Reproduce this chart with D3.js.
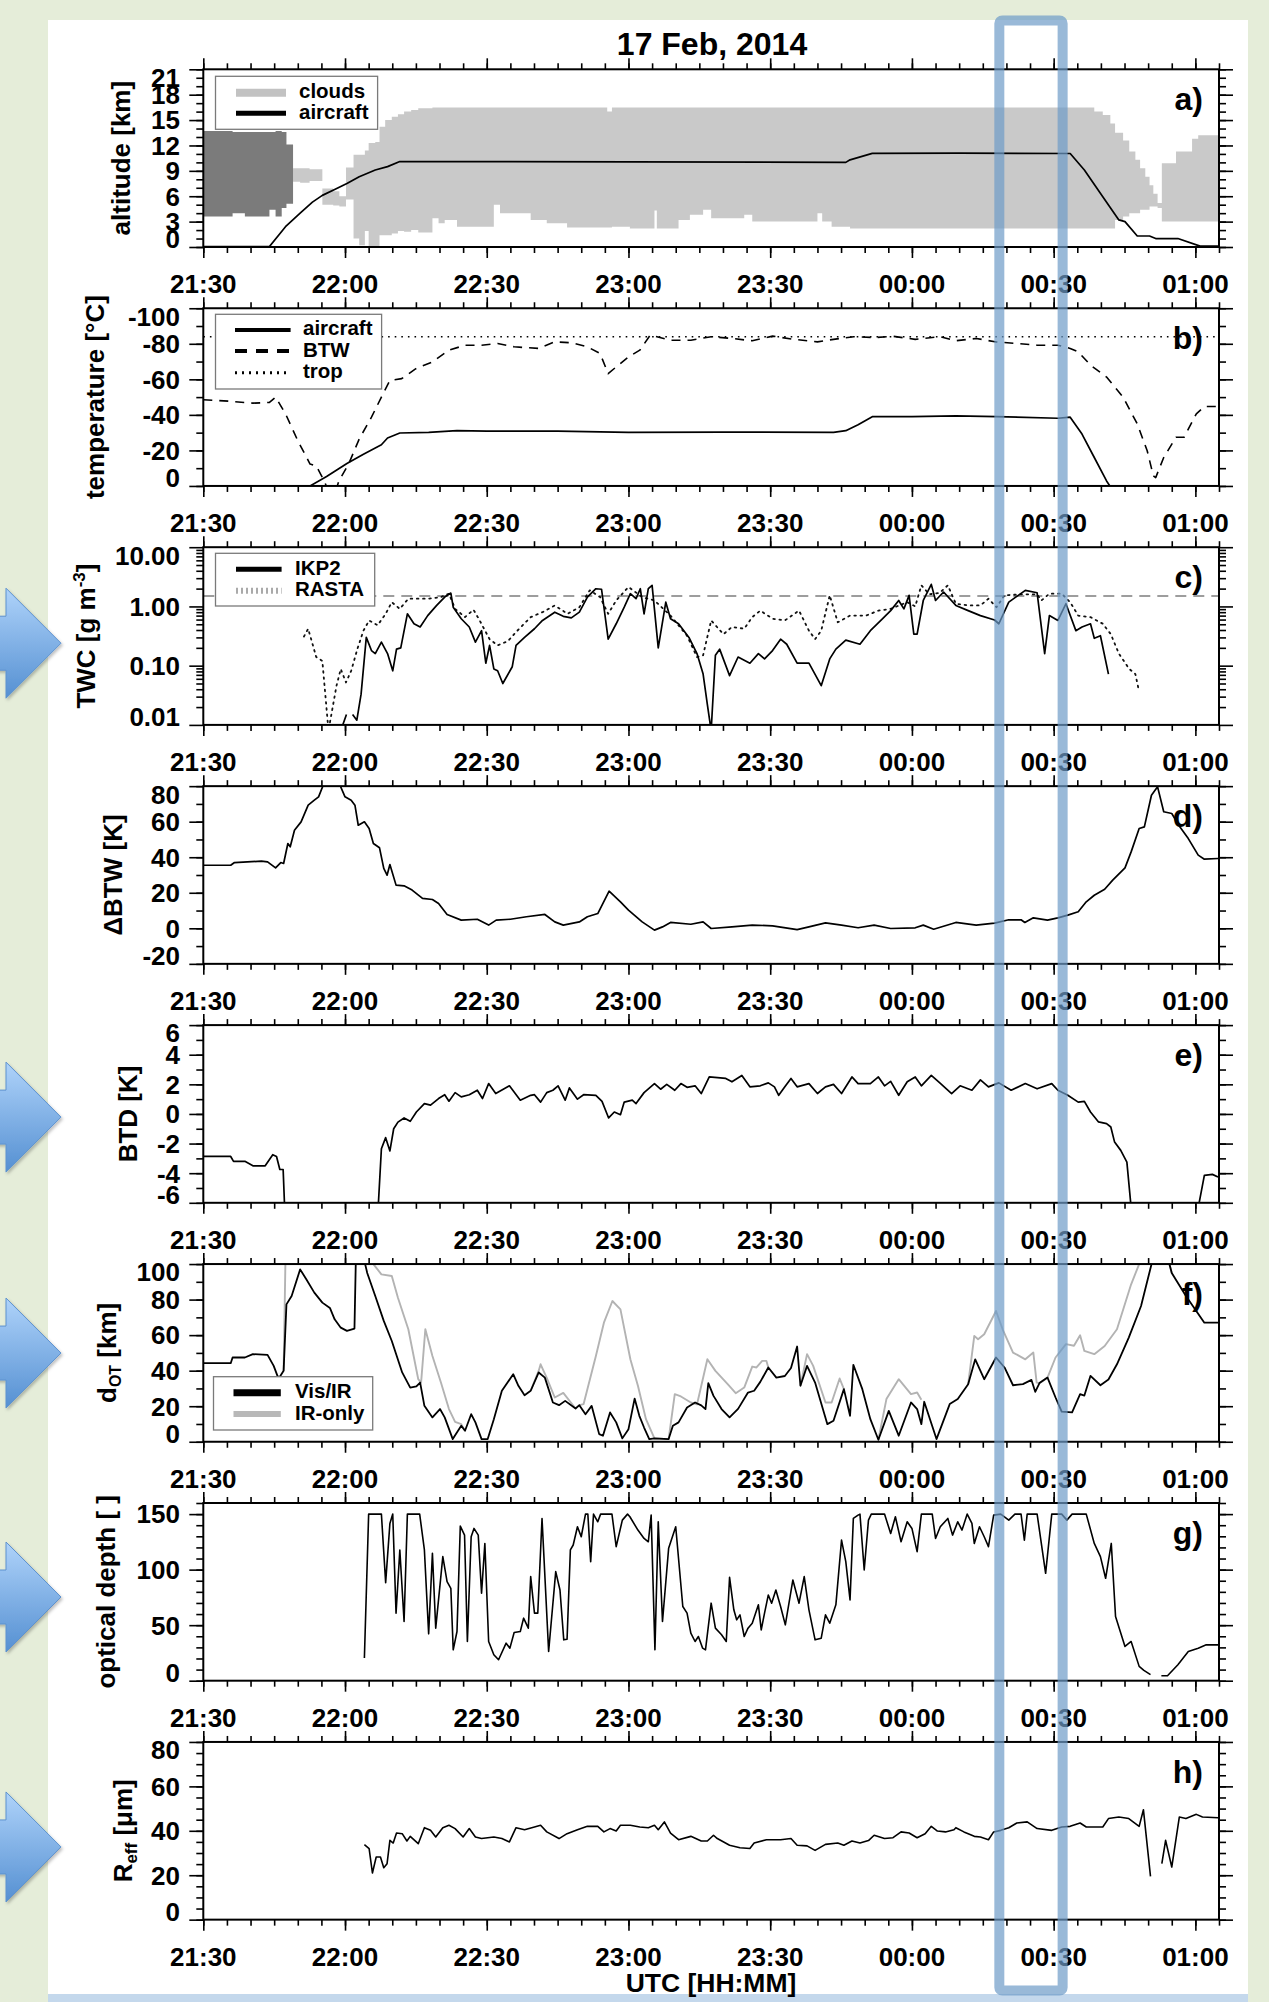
<!DOCTYPE html>
<html><head><meta charset="utf-8">
<script src="https://cdn.jsdelivr.net/npm/d3@7"></script>
<style>
html,body{margin:0;padding:0;background:#e5edd9;}
svg{display:block;}
text{font-family:"Liberation Sans",Arial,Helvetica,sans-serif;font-weight:bold;fill:#000;}
</style></head><body>
<script>
// ---------- time axis (minutes after 21:30 UTC) ----------
const timeDomain = [0, 215];
const timeTickMinutes = [0, 30, 60, 90, 120, 150, 180, 210];
const timeTickLabels = ["21:30", "22:00", "22:30", "23:00", "23:30", "00:00", "00:30", "01:00"];
const highlightWindow = [168.5, 181.9];

// ---------- a) altitude ----------
const altTicks = [0, 3, 6, 9, 12, 15, 18, 21];
const altTickLabels = ["0", "3", "6", "9", "12", "15", "18", "21"];
// [t, cloud base km, cloud top km]
const cloudAnvil = [[0,3.6,13.7],[6.2,4.0,13.6],[8.8,3.6,13.6],[14,4.4,13.6],[15.3,3.6,13.7],[16.6,4.6,13.6],[17.6,5.1,12.1],[19.0,5.1,12.1]];
const cloudMain = [[19.0,7.7,9.3],[20.5,7.6,9.3],[22.5,7.8,9.2],[25.2,5.0,6.9],[27.5,4.9,6.6],[28.8,4.8,6.0],[30.2,5.6,9.4],[31.8,1.0,10.9],[33.0,0.2,10.9],[34.2,1.9,11.4],[35.0,0.0,12.3],[36.4,0.1,12.4],[37.3,1.4,14.2],[38.5,1.4,15.0],[39.9,1.6,15.4],[41.2,1.9,15.7],[42.5,1.8,16.0],[44.0,2.0,16.2],[45.5,1.7,16.4],[48.5,3.4,16.5],[49.8,2.8,16.5],[51.1,3.2,16.5],[53.7,2.4,16.5],[61.5,5.0,16.5],[62.8,4.0,16.5],[69.3,3.2,16.5],[72.7,2.8,16.5],[77.0,2.3,16.5],[85.5,2.3,16.0],[86.5,2.4,16.5],[90.3,2.2,16.5],[95.5,4.3,16.5],[96.0,2.2,16.5],[100.6,3.2,16.5],[103.0,3.8,16.5],[105.8,4.4,16.5],[107.5,3.4,16.5],[114.5,3.8,16.5],[116.2,3.0,16.5],[130.0,4.0,16.5],[131.0,3.0,16.5],[133.0,2.4,16.5],[136.9,2.2,16.5],[186.9,2.2,16.5],[188.6,2.2,16.0],[190.4,2.2,15.6],[192.0,2.2,14.6],[193.0,3.2,13.5],[194.7,3.6,12.6],[196.0,4.0,11.3],[197.3,4.0,10.3],[198.3,4.4,9.3],[199.4,4.4,8.3],[200.3,4.8,7.3],[201.1,4.8,6.3],[202.0,4.6,5.2],[202.9,3.0,9.9],[205.9,3.0,11.3],[209.3,3.0,12.8],[210.6,3.0,13.2],[215,3.0,13.2]];
const aircraftAltitude = [[0,0.05],[14,0.05],[17.4,2.4],[20.5,4.0],[23.1,5.3],[25.2,6.1],[27.8,6.8],[30.4,7.5],[33,8.3],[36.4,9.1],[39,9.5],[41.6,10.1],[60,10.1],[90,10.05],[136,10.0],[136.9,10.3],[141.6,11.07],[160,11.1],[183.5,11.05],[186.5,9.1],[190.4,5.95],[193.8,3.2],[195.1,3.0],[197.7,1.3],[200.3,1.3],[201.6,1.0],[206.3,1.0],[211,0.1],[215,0.1]];

// ---------- b) temperature ----------
const tempTicks = [0, -20, -40, -60, -80, -100];
const tempTickLabels = ["0", "-20", "-40", "-60", "-80", "-100"];
const aircraftTemp = [[21.5,2],[22.6,0],[26.1,-5.3],[30.4,-12.6],[33.9,-17.9],[37.7,-23.2],[39,-27],[41.6,-29.8],[47.7,-30.2],[53.7,-31.1],[60,-30.8],[75,-30.8],[90,-30.2],[110,-30.3],[133.4,-30.2],[136,-31.1],[138.6,-34.5],[141.6,-39],[150,-39],[159.3,-39.4],[167.9,-39],[180.9,-38.1],[183.5,-38.7],[186,-29.2],[188.6,-16],[191.2,-2.8],[191.9,0],[192.5,2]];
const btwTemp = [[0,-48.5],[5.4,-47.7],[10.5,-46.6],[14,-47],[15.3,-50],[17.4,-40.6],[20,-25.5],[22.6,-12.3],[23.9,-11.3],[25.6,-2.8],[26.5,3],[28,3],[28.7,-2.8],[30.8,-12.6],[33,-26.4],[35.6,-38.7],[37.7,-50],[39.5,-59.4],[42,-60.4],[45,-66],[48.5,-69.8],[52,-76.4],[55.4,-79.2],[58.9,-79.2],[62.3,-80.2],[65.8,-78.3],[71,-77.4],[74.4,-81.1],[77.9,-80.6],[81.3,-78.3],[84,-74.5],[85.7,-63.2],[87.4,-67],[90,-72.6],[92.4,-76.4],[94.6,-84.9],[98.9,-82],[103.2,-82],[107.5,-84],[111.9,-83],[116.2,-81.7],[120.5,-84.3],[125,-82.5],[130,-81.1],[133.4,-82.5],[137.7,-84],[142,-83.5],[146,-84.2],[150.7,-82.5],[155.9,-84],[159.3,-81.7],[163.6,-83],[167.9,-81],[172.2,-80.2],[176.5,-79.2],[180.9,-79.2],[183.5,-77.4],[185.2,-75.5],[187.8,-68],[191.2,-61.3],[194.7,-50],[197.7,-34.9],[199.8,-19.8],[201.1,-5.7],[201.6,-4.7],[203.3,-16],[205.9,-27.4],[207.6,-27.4],[210.2,-40.6],[211.9,-44.7],[214.8,-44.7]];
const tropopauseTemp = -84;

// ---------- c) total water content ----------
const twcTicks = [0.01, 0.1, 1, 10];
const twcTickLabels = ["0.01", "0.10", "1.00", "10.00"];
const twcReference = 1.5;
const twcIKP2 = [[29.1,0.008],[30.3,0.015],null,[31.6,0.015],[32.5,0.012],[33.4,0.033],[34.5,0.30],[35.6,0.18],[36.4,0.16],[37.7,0.25],[39,0.16],[40.1,0.082],[40.9,0.19],[41.8,0.2],[43.2,0.75],[44.6,0.51],[45.9,0.45],[47.5,0.70],[49.4,1.04],[51.1,1.44],[52.4,1.68],[52.9,0.97],[54.6,0.62],[56.3,0.45],[57.6,0.25],[58.9,0.39],[59.8,0.11],[60.6,0.22],[61.5,0.088],[62.3,0.082],[63.4,0.05],[65.4,0.096],[66.2,0.22],[68,0.30],[70.1,0.42],[71.8,0.58],[74.4,0.80],[76.2,0.68],[77.9,0.64],[79.6,0.80],[81.3,1.44],[83.1,1.99],[84.3,1.95],[85.7,0.28],[87.4,0.51],[89.1,0.97],[90.4,1.64],[91.6,1.35],[92.5,1.99],[93.3,0.75],[94.2,1.99],[95,2.27],[96.3,0.2],[97.9,1.18],[98.9,0.62],[100.6,0.51],[102.8,0.30],[104.5,0.16],[105.8,0.072],[106.7,0.022],[107.5,0.008],[108.4,0.15],[109.3,0.19],[111.4,0.068],[113.2,0.14],[115.7,0.11],[117.5,0.16],[118.8,0.13],[120.5,0.18],[122.2,0.28],[123.5,0.23],[125.7,0.11],[128.2,0.11],[130.8,0.046],[132.6,0.13],[133.9,0.19],[136,0.27],[139,0.23],[141.2,0.39],[143.8,0.62],[145.5,0.85],[147.2,1.26],[148.3,0.91],[149.4,1.54],[150.4,0.34],[151.1,0.34],[152.4,1.26],[154.1,2.36],[155,1.26],[156.7,1.75],[159.3,1.04],[161.9,0.85],[164.5,0.70],[167.5,0.59],[168.4,0.51],[170.5,1.18],[174,1.87],[176.5,1.7],[178.1,0.16],[179.1,0.70],[180.9,0.58],[182.6,1.11],[184.7,0.39],[186,0.45],[187.8,0.51],[188.6,0.29],[189.9,0.32],[191.6,0.072]];
const twcRASTA = [[21.3,0.31],[22.2,0.42],[23.9,0.14],[25.2,0.12],[26.5,0.008],[28.2,0.046],[29.1,0.088],[30.2,0.052],[31.3,0.082],[32.6,0.19],[33.9,0.39],[35.1,0.58],[36.9,0.48],[38.6,0.75],[39.9,1.18],[41.6,0.91],[43.4,1.35],[47.7,1.35],[50.3,1.44],[52,1.64],[53.3,0.91],[55.4,0.66],[57.2,0.88],[58.5,0.58],[60.6,0.28],[62.3,0.22],[64.5,0.26],[66.2,0.37],[69.3,0.66],[71.8,0.80],[74.4,1.04],[77.1,0.75],[79.6,0.97],[81.8,1.87],[84,1.44],[85.7,0.75],[87.4,1.26],[90,2.13],[92.9,1.44],[95.5,1.26],[98.9,0.7],[102.4,0.32],[104.5,0.14],[105.8,0.15],[107.5,0.58],[110.1,0.34],[111.9,0.45],[114.5,0.42],[116.2,0.66],[117.9,0.85],[120.5,0.62],[123.1,0.58],[126.1,0.85],[128.2,0.39],[129.5,0.28],[130.8,0.39],[132.6,1.54],[134.3,0.54],[136.9,0.70],[140.3,0.70],[142.9,0.85],[145.5,0.91],[149,1.18],[150.7,1.0],[152,2.27],[153.7,1.6],[155.9,1.7],[157.6,2.27],[159.3,1.11],[161.9,1.04],[164.5,1.04],[166.2,1.35],[167.9,0.97],[169.6,1.54],[173.1,1.6],[176.5,1.6],[177.4,1.26],[179.1,1.64],[181.7,1.64],[183.5,1.18],[185.2,0.7],[187.8,0.66],[190.4,0.51],[192.1,0.34],[193.8,0.16],[196,0.088],[197.3,0.072],[197.9,0.043]];

// ---------- d) ΔBTW ----------
const dbtwTicks = [-20, 0, 20, 40, 60, 80];
const dbtwTickLabels = ["-20", "0", "20", "40", "60", "80"];
const deltaBTW = [[0,35.5],[5.8,35.5],[6.6,37],[12.3,37.8],[13.6,37.4],[15.3,34],[16.4,37],[17,36.5],[17.9,47.7],[18.4,45.9],[19.3,55.2],[20.7,59.9],[22.2,69.3],[23.5,72.1],[24.4,74],[25.6,82],[28.7,82],[30,74],[31.3,72.1],[32.1,69.3],[32.8,58],[34.1,59.9],[35.1,56.2],[36,47.7],[37.3,45.3],[38.2,33.7],[38.9,29.9],[39.5,35.9],[40.8,24.3],[42.5,23.9],[44.2,21.5],[46.4,16.8],[48.5,16.2],[49.8,14],[51.6,7.8],[54.6,4.6],[58,5.1],[60.4,1.8],[62,4.6],[65,5.1],[68.4,6.5],[72.3,7.8],[74.4,3.6],[76.2,1.8],[79.6,3.6],[81.3,6.5],[83.5,8.3],[85.9,20.9],[88.3,14.9],[90,10.2],[92.9,3.6],[95.5,-1],[97.2,0.8],[98.9,3.3],[103.2,2.3],[105.8,3.6],[107.5,-0.1],[111.9,0.8],[116.2,1.8],[120.5,1.4],[125.7,-0.7],[128.2,0.8],[131.7,3.1],[135.1,1.8],[138.6,0.3],[142,1.8],[145.5,-0.1],[150.7,0.3],[152.4,1.8],[154.6,-0.5],[159.3,3.3],[163.6,1.8],[167.5,2.9],[170.5,4.8],[173.1,4.8],[173.9,3.3],[175.7,5.9],[178.7,4.6],[180.9,5.9],[183,7.4],[185.2,9.3],[186.9,14.9],[188.6,18.6],[190.8,22],[192.5,27.1],[195.1,34],[196.4,43],[198.1,56.2],[199.2,57.1],[200.7,74.9],[202,79.6],[203.3,65.6],[205,64.6],[206.7,57.1],[208.5,50.5],[210.6,41.2],[211.9,38.9],[214.8,39.3]];

// ---------- e) BTD ----------
const btdTicks = [-6, -4, -2, 0, 2, 4, 6];
const btdTickLabels = ["-6", "-4", "-2", "0", "2", "4", "6"];
const btd = [[0,-2.87],[5.8,-2.87],[6.4,-3.2],[8.8,-3.2],[10.5,-3.5],[13.1,-3.5],[14.7,-2.75],[15.5,-2.87],[16.2,-3.75],[16.9,-3.75],[17.3,-7],[36.9,-7],[37.7,-2.35],[38.6,-1.6],[39.5,-2.5],[40.3,-1],[41.2,-0.55],[42.5,-0.27],[43.8,-0.5],[45.1,0.13],[46.8,0.7],[48.1,0.6],[49.8,1.04],[51.1,1.3],[52,0.86],[53.3,1.44],[54.6,1.15],[56.3,1.3],[58,1.6],[59.1,1.04],[60.4,2.05],[61.9,1.38],[64.8,1.9],[67.1,0.93],[69.3,1.26],[70.1,1.3],[71.4,0.8],[72.7,1.44],[74,1.6],[75.1,1.9],[76.6,0.93],[77.5,1.76],[79.2,1.0],[80.5,1.3],[83.1,1.26],[84.4,0.85],[85.8,-0.27],[87,0.13],[88.3,-0.05],[89.1,0.8],[90.8,0.93],[91.6,0.7],[93.3,1.44],[95.5,2.05],[96.8,1.67],[98.1,2.0],[99.8,1.6],[101.1,2.05],[102.4,1.8],[104.1,1.9],[105.4,1.38],[107.1,2.5],[110.6,2.4],[111.9,2.17],[114,2.6],[115.7,1.83],[117.9,1.9],[119.6,2.1],[120.9,1.83],[121.8,1.26],[123.1,1.83],[124.4,2.4],[125.7,1.83],[128.2,2.05],[130,1.38],[131.7,1.83],[133.4,2.0],[135.1,1.38],[137.3,2.5],[138.6,2.05],[141.2,2.05],[142.9,2.5],[144.2,1.9],[145.5,2.2],[147.2,1.26],[149,2.17],[150.7,2.5],[152,1.9],[154.1,2.6],[155.9,2.1],[158.4,1.38],[160.2,1.9],[162.7,1.6],[164.5,2.3],[166.2,1.83],[168.4,2.1],[171,1.6],[174,2.05],[176.5,1.7],[179.6,2.05],[180.9,1.6],[183,1.26],[185.2,0.8],[186.5,0.85],[187.8,0.13],[189.5,-0.54],[191.2,-0.65],[192.1,-0.88],[192.9,-1.9],[194.2,-2.46],[195.5,-3.25],[196.6,-7],[210.2,-7],[211.9,-4.15],[213.6,-4.08],[214.8,-4.26]];

// ---------- f) overshooting-top distance ----------
const dotTicks = [0, 20, 40, 60, 80, 100];
const dotTickLabels = ["0", "20", "40", "60", "80", "100"];
const dotVisIR = [[0,44.2],[5.8,44.2],[6.2,47.4],[8.8,47.4],[10.5,49.3],[13.6,48.9],[14.9,42.7],[15.7,37.1],[16.1,36.1],[17,39.9],[17.6,77.3],[18.7,82],[20.5,97],[21.8,91.4],[23.5,83.9],[25.2,78.3],[26.8,75.3],[27.8,68.9],[29.1,64.2],[30.4,62.4],[32,63.7],[32.3,104],[33.9,104],[34.7,95],[36.4,82],[38.2,68],[39.9,56.7],[42.1,39],[43.8,30.5],[45.1,31.1],[45.9,33.3],[46.8,20.2],[48.5,13.7],[50.1,18.4],[51.1,13.7],[52.8,1.5],[54.6,9],[55.4,6.2],[56.7,15.5],[57.6,10.9],[58.9,1.5],[60.2,1.5],[61.5,12.7],[63.2,28.7],[65.6,38],[66.7,31.5],[68,26.2],[69.3,28.7],[71,39],[72.3,36.1],[74,22.1],[75.3,20.6],[76.6,23],[78.8,18.7],[79.6,20.6],[80.9,15.5],[82.2,20.2],[83.8,4.3],[84.6,3.4],[86.1,16.5],[87.4,10.9],[88.7,1.9],[90,7.1],[91.3,24.3],[92.3,14.6],[93.3,8],[94.4,1.5],[95.5,1.9],[98.5,1.5],[99.4,9],[100.6,10.9],[102.4,19.3],[104.1,22.1],[105.4,20.5],[106.3,18.4],[106.9,33],[108,25.8],[109.7,18.4],[111.4,13.7],[113.2,18.5],[115.3,27.7],[116.6,28.7],[117.9,33.7],[119.6,41.8],[121.3,36.1],[123.1,37],[124.4,41.5],[125.7,53.6],[126.4,31.5],[127.8,42.7],[129.5,33.3],[132.1,9.9],[133.4,11.8],[135.6,29.6],[136.9,14.6],[137.6,43.3],[139.5,29.6],[141.2,12.7],[142.9,1.1],[145.1,17.4],[147.2,3.4],[149.8,22.1],[151.1,18.4],[152,9.9],[152.6,22.5],[155.2,1.5],[158,21.2],[159.7,24],[161.9,32.4],[163.4,46.4],[165.3,35.2],[167.8,47.4],[169.6,41.8],[171.4,31.8],[173.5,32.4],[175.3,34.8],[176.1,28.1],[177,33],[178.7,36.1],[180.4,24.9],[181.7,16.9],[183.9,16.5],[185.6,26.8],[186.5,26],[187.8,37.1],[189.9,31.8],[191.6,35],[193.4,43.6],[195.9,58.6],[198.5,76.4],[201.1,104],[204.1,104],[205,95],[208,82],[211.9,67],[214.8,67]];
const dotIROnly = [[17,39.9],[17.4,104],[34.7,104],[36,100],[37.7,94.2],[39.9,93.3],[41.2,81],[43.4,63.3],[45.5,35.2],[46.1,33.3],[47,63.3],[48.5,48.3],[50.3,33.3],[52,18.4],[53.3,11.2],[54.6,9.9],[55.4,6.2],null,[69.3,28.7],[71,40],[71.4,43.6],[72.7,36],[74.4,24.9],[76.2,27.5],[78.8,18.7],null,[79.6,20.6],[80.5,21.2],[83.1,48.3],[84.8,67],[86.6,79.2],[88.3,74.5],[90.4,46.4],[92,31.5],[93.7,12.7],[95.5,1.9],[98.5,1.5],[99.8,26.8],[101.1,25.5],[103.2,22.1],[104.5,21],[106.7,46.4],[108.4,39.9],[111,32.4],[112.7,27.3],[114.5,30.5],[116.2,42.3],[117.1,41.8],[118.3,45.5],[119.2,45.5],[119.6,41.8],null,[126.4,31.5],[127.8,49.3],[129.1,42.7],[131.7,22.1],[133,22.1],[134.7,35.6],[135.6,29.6],null,[142.9,1.1],[144.6,24],[147.2,35.2],[149.8,26.8],[151.1,27.7],[152,23.6],null,[161.9,32.4],[163.2,59.6],[164,57.7],[165.3,60.5],[167.8,73.6],[169.2,63.3],[171.4,50.2],[174,46.4],[175.7,50.2],[176.4,33.3],[177,33],[178.7,36.1],[180.4,47.4],[182.6,54.9],[184.3,54],[185.6,59.9],[186.5,51.1],[188.6,49.3],[190.8,53.9],[193.4,63.3],[196.4,88.6],[198.1,100],[198.5,104],[204.1,104],[205,95]];

// ---------- g) optical depth ----------
const odTicks = [0, 50, 100, 150];
const odTickLabels = ["0", "50", "100", "150"];
const opticalDepth = [[34.1,20.4],[35,150],[37.7,150],[38.6,88.3],[39.5,141.6],[40.1,150],[40.8,60.8],[41.6,117.7],[42.5,53.3],[43.2,150],[45.8,150],[46.8,117.7],[47.7,42.2],[48.5,114.7],[49.2,47.3],[50.7,111.7],[51.6,89.2],[52.4,83.2],[52.9,27.8],[53.7,44.3],[54.4,139.2],[55.3,131.1],[55.9,35.3],[56.7,129.6],[57.3,137.1],[58.2,131.1],[58.9,78.7],[59.6,123.6],[60.4,35.3],[61.5,23.4],[62.5,18.9],[64.1,33.8],[64.9,29.3],[65.8,43.4],[67.1,44.3],[67.8,56.3],[68.8,47.3],[69.3,93.7],[70.1,60.8],[70.8,60.8],[71.7,146.1],[73.1,26.3],[74.6,98.2],[75.5,81.7],[76.3,36.8],[77,37.4],[77.7,117.7],[78.3,122.2],[79.2,138.6],[80,129.6],[80.9,150],[81.4,150],[82,107.2],[82.6,150],[83.5,143.1],[84.1,150],[86.5,150],[87.4,120.7],[88.7,144.6],[89.8,150],[90.3,147.6],[92,135.6],[93.3,128.1],[94.2,125.1],[94.8,149.1],[95.6,27.8],[96.3,143.1],[97.2,53.3],[98.5,119.2],[100,138.6],[101.5,66.8],[102.4,60.8],[103.2,42.8],[104.1,35.3],[104.8,39.8],[105.7,29.3],[106.3,27.8],[107.5,69.8],[108.4,47.3],[109.7,41.3],[110.7,35.3],[111.4,93.1],[112.3,63.8],[112.9,54.8],[113.6,59.3],[114.5,39.8],[115.3,47.3],[116.2,51.8],[117.5,68.3],[118.1,45.8],[118.8,60.8],[119.6,77.2],[120.3,69.8],[121.2,81.7],[122.2,66.8],[123.2,50.3],[124.8,90.7],[126.1,69.8],[127.2,93.7],[128.2,63.8],[129.5,36.8],[130.8,38.3],[131.7,59.3],[132.6,51.8],[133.9,68.3],[135.1,126.6],[136,107.2],[136.9,72.8],[137.6,146.1],[138.6,149.1],[139,150],[139.9,99.7],[140.8,144.6],[141.4,150],[144.2,150],[145.5,132.6],[146.5,147.6],[147.7,125.1],[149,143.1],[150,137.1],[151.1,116.2],[152,150],[154.3,150],[155,128.1],[156,138.6],[157.6,146.1],[158.6,131.1],[159.7,143.1],[160.6,135.6],[161.7,150],[162.7,141.6],[163.2,123.6],[164.3,138.6],[165.3,129.6],[166.2,120.7],[167.3,149.1],[168.8,150],[170.5,144.6],[171.8,150],[173.1,150],[173.8,126.6],[174.4,150],[176.5,150],[178.3,96.7],[179.6,150],[181.7,150],[182.8,144.6],[183.9,150],[186.9,150],[188.6,123.6],[189.9,111.7],[191,92.2],[192.2,123.6],[193.1,57.8],[195.1,30.8],[196.4,35.3],[198.1,12.9],[199.1,9.3],[200.5,5.4],null,[202.8,4.5],[204.1,4.5],[206.3,14.4],[208.5,26.3],[210.6,29.3],[212.3,32.3],[214.8,32.3]];

// ---------- h) effective radius ----------
const reffTicks = [0, 20, 40, 60, 80];
const reffTickLabels = ["0", "20", "40", "60", "80"];
const effectiveRadius = [[34.1,33.8],[35.1,32],[35.8,21],[36.6,28.2],[37.5,28.2],[38.2,23.4],[38.9,25.2],[39.5,35.7],[40.2,34.5],[40.9,39],[42.1,38.7],[43.1,35.4],[43.8,37.5],[45.5,34.2],[46.8,41.4],[48.1,40.2],[49.2,37.2],[50.7,41.4],[52,42.5],[53.3,41],[55,37.2],[56.3,41],[57.6,37.2],[58.9,36.5],[61.5,37.2],[63.2,36.5],[64.8,35],[66.2,41.4],[68,40.5],[70.1,41.7],[71.4,42.5],[72.7,39.5],[75.3,36.5],[77,38.7],[79.2,40.5],[81.3,42],[83.5,42],[84.8,39.5],[86.1,41],[87.4,39.9],[88.3,42.5],[90.4,42.5],[92.4,41.7],[94.2,41.4],[95.5,42.5],[96.3,40.5],[97.6,44],[98.9,39],[100.6,36],[103.2,37.5],[105.4,35.4],[106.7,35.4],[108,38],[108.8,36.5],[111.4,33.5],[113.6,32.4],[115.7,32],[116.6,34.5],[119.2,36],[122.2,36],[124.4,36.5],[125.7,33.5],[127.8,33.2],[129.5,31.2],[131.7,33.9],[134.3,34.5],[135.6,33.5],[137.3,35.4],[139,34.5],[140.8,35.6],[142,38],[144.2,36.5],[146,36.9],[147.7,39.5],[149.4,39],[151.1,36.9],[152.8,38.7],[154.1,42],[155.4,39.9],[157.1,39.5],[158.9,40.5],[159.3,41.4],[161,39.5],[163.2,37.5],[164.5,37.2],[166.2,36],[167.3,39.5],[168.8,40.2],[170.5,41.4],[172.2,43.5],[174.4,44],[176.5,41],[179.6,40.2],[181.7,41.7],[183.5,42],[185.6,43.5],[186.9,41.7],[190.4,41.7],[191.6,45.5],[193.8,46.2],[195.9,45.5],[198.1,42],[199,49.5],[200.5,19.5],null,[202.9,25.2],[203.7,35.7],[205,23.7],[206.6,46.2],[208,45.5],[210.2,47.4],[211.5,46.2],[214.8,45.9]];

// ================= drawing =================
const W = 1269, H = 2002;
const svg = d3.select("body").append("svg").attr("width", W).attr("height", H);
const defs = svg.append("defs");

// arrow gradient + shadow
const grad = defs.append("linearGradient").attr("id", "arrowGrad").attr("x1", 0).attr("y1", 0).attr("x2", 0).attr("y2", 1);
grad.append("stop").attr("offset", "0%").attr("stop-color", "#afd3fa");
grad.append("stop").attr("offset", "100%").attr("stop-color", "#5590d2");
const shadow = defs.append("filter").attr("id", "soft").attr("x", "-20%").attr("y", "-20%").attr("width", "150%").attr("height", "150%");
shadow.append("feDropShadow").attr("dx", 1.5).attr("dy", 2).attr("stdDeviation", 1.5).attr("flood-color", "#000").attr("flood-opacity", 0.25);

// page background, white figure card and blue strip at the foot
svg.append("rect").attr("width", W).attr("height", H).attr("fill", "#e5edd9");
svg.append("rect").attr("x", 48).attr("y", 20).attr("width", 1200).attr("height", 1974).attr("fill", "#fff");
svg.append("rect").attr("x", 48).attr("y", 1994).attr("width", 1200).attr("height", 8).attr("fill", "#c4d8ec");

const plotL = 203.3, plotR = 1219, top0 = 69.3, step = 238.95, ph = 177.7;
const x = d3.scaleLinear().domain(timeDomain).range([plotL, plotR]);
const timeMinor = d3.range(timeDomain[0], timeDomain[1] + 1, 5);

svg.append("text").attr("x", 712).attr("y", 55).attr("text-anchor", "middle")
  .attr("font-size", 32).text("17 Feb, 2014");
svg.append("text").attr("x", 711).attr("y", 1992).attr("text-anchor", "middle")
  .attr("font-size", 26.5).text("UTC [HH:MM]");

function makePanel(i, cfg) {
  const top = top0 + i * step, bottom = top + ph;
  const y = (cfg.log ? d3.scaleLog() : d3.scaleLinear()).domain(cfg.domain).range([bottom, top]);
  const g = svg.append("g");
  defs.append("clipPath").attr("id", "clip" + i).append("rect")
    .attr("x", plotL).attr("y", top).attr("width", plotR - plotL).attr("height", ph);
  const plot = g.append("g").attr("clip-path", `url(#clip${i})`);

  const tickAxis = (gen, tr, vals, size) => {
    g.append("g").attr("transform", tr)
      .call(gen.tickValues(vals).tickSize(size).tickSizeOuter(0).tickFormat(""))
      .call(s => s.select(".domain").remove())
      .call(s => s.selectAll("line").attr("stroke", "#000").attr("stroke-width", 1.6));
  };
  tickAxis(d3.axisTop(x), `translate(0,${top})`, timeTickMinutes, 11);
  tickAxis(d3.axisTop(x), `translate(0,${top})`, timeMinor, 6);
  tickAxis(d3.axisBottom(x), `translate(0,${bottom})`, timeTickMinutes, 11);
  tickAxis(d3.axisBottom(x), `translate(0,${bottom})`, timeMinor, 6);
  tickAxis(d3.axisLeft(y), `translate(${plotL},0)`, cfg.major, 14);
  tickAxis(d3.axisLeft(y), `translate(${plotL},0)`, cfg.minor, 7);
  tickAxis(d3.axisRight(y), `translate(${plotR},0)`, cfg.major, 14);
  tickAxis(d3.axisRight(y), `translate(${plotR},0)`, cfg.minor, 7);

  // time labels under the panel
  g.selectAll(null).data(timeTickMinutes).join("text")
    .attr("x", d => x(d)).attr("y", bottom + 46).attr("text-anchor", "middle")
    .attr("font-size", 26).text((d, k) => timeTickLabels[k]);
  // value labels, pulled inside the frame at the ends
  g.selectAll(null).data(cfg.major).join("text")
    .attr("x", 180).attr("y", d => Math.max(top + 8, Math.min(bottom - 8, y(d))))
    .attr("dy", "0.36em").attr("text-anchor", "end").attr("font-size", 26)
    .text((d, k) => cfg.labels[k]);
  // axis title
  const tt = g.append("text").attr("font-size", 26).attr("text-anchor", "middle")
    .attr("transform", `translate(${cfg.titleX},${(top + bottom) / 2}) rotate(-90)`);
  cfg.title(tt);
  return { g, plot, y, top, bottom, id: cfg.id };
}

function finishPanel(p) {
  p.g.append("rect").attr("x", plotL).attr("y", p.top).attr("width", plotR - plotL).attr("height", ph)
    .attr("fill", "none").attr("stroke", "#000").attr("stroke-width", 2);
  p.g.append("text").attr("x", 1203).attr("y", p.top + 41).attr("text-anchor", "end")
    .attr("font-size", 32).text(p.id + ")");
}

function drawLine(p, data, stroke, width, dash) {
  const line = d3.line().defined(d => d != null).x(d => x(d[0])).y(d => p.y(d[1]));
  const path = p.plot.append("path").datum(data).attr("d", line).attr("fill", "none")
    .attr("stroke", stroke).attr("stroke-width", width).attr("stroke-linejoin", "round");
  if (dash) path.attr("stroke-dasharray", dash);
  return path;
}

function legend(p, box, entries, textX) {
  const lg = p.g.append("g");
  lg.append("rect").attr("x", box[0]).attr("y", box[1]).attr("width", box[2] - box[0]).attr("height", box[3] - box[1])
    .attr("fill", "#fff").attr("stroke", "#7a7a7a").attr("stroke-width", 1.3);
  entries.forEach(e => {
    const l = lg.append("line").attr("x1", e.x1).attr("x2", e.x2).attr("y1", e.y).attr("y2", e.y)
      .attr("stroke", e.stroke).attr("stroke-width", e.w);
    if (e.dash) l.attr("stroke-dasharray", e.dash);
    lg.append("text").attr("x", textX).attr("y", e.ty).attr("font-size", 20.5).text(e.label);
  });
}

// ---- a) altitude ----
const pa = makePanel(0, { id: "a", domain: [0, 21], major: altTicks, minor: d3.range(0, 22, 1), labels: altTickLabels, titleX: 130,
  title: t => t.text("altitude [km]") });
const cloudArea = d3.area().curve(d3.curveStepAfter).x(d => x(d[0])).y0(d => pa.y(d[1])).y1(d => pa.y(d[2]));
pa.plot.append("path").datum(cloudMain).attr("d", cloudArea).attr("fill", "#c9c9c9");
pa.plot.append("path").datum(cloudAnvil).attr("d", cloudArea).attr("fill", "#7b7b7b");
drawLine(pa, aircraftAltitude, "#000", 1.7);
legend(pa, [215.5, 76.3, 377.6, 129.3], [
  { x1: 236, x2: 286, y: 92.7, stroke: "#c2c2c2", w: 8, label: "clouds", ty: 98.3 },
  { x1: 236, x2: 286, y: 113.3, stroke: "#000", w: 5, label: "aircraft", ty: 119 }
], 299);
finishPanel(pa);

// ---- b) temperature ----
const pb = makePanel(1, { id: "b", domain: [0, -100], major: tempTicks, minor: d3.range(0, -101, -10), labels: tempTickLabels, titleX: 104,
  title: t => t.text("temperature [°C]") });
drawLine(pb, [[timeDomain[0], tropopauseTemp], [timeDomain[1], tropopauseTemp]], "#000", 1.6, "1.6,5");
drawLine(pb, btwTemp, "#000", 1.6, "9,7");
drawLine(pb, aircraftTemp, "#000", 1.7);
legend(pb, [215.5, 314.3, 381.6, 389], [
  { x1: 235, x2: 290.6, y: 330, stroke: "#000", w: 4, label: "aircraft", ty: 335 },
  { x1: 235, x2: 290.6, y: 351, stroke: "#000", w: 4, dash: "12,9", label: "BTW", ty: 357.3 },
  { x1: 235, x2: 290.6, y: 372.7, stroke: "#000", w: 3, dash: "2,5", label: "trop", ty: 378.3 }
], 303);
finishPanel(pb);

// ---- c) TWC ----
const twcMinor = [];
[0.01, 0.1, 1].forEach(dec => { for (let k = 2; k <= 9; k++) twcMinor.push(k * dec); });
const pc = makePanel(2, { id: "c", log: true, domain: [0.01, 10], major: twcTicks, minor: twcMinor, labels: twcTickLabels, titleX: 95,
  title: t => { t.append("tspan").text("TWC [g m"); t.append("tspan").attr("font-size", 17).attr("dy", -10).text("-3");
               t.append("tspan").attr("dy", 10).text("]"); } });
drawLine(pc, [[timeDomain[0], twcReference], [timeDomain[1], twcReference]], "#7d7d7d", 1.4, "11,7");
drawLine(pc, twcRASTA, "#111", 1.8, "1.6,4.6").attr("stroke-linecap", "round");
drawLine(pc, twcIKP2, "#000", 1.7);
legend(pc, [215.5, 553.3, 374.7, 606], [
  { x1: 236, x2: 281.6, y: 569.3, stroke: "#000", w: 5, label: "IKP2", ty: 575 },
  { x1: 236, x2: 281.6, y: 590.7, stroke: "#aaaaaa", w: 6, dash: "2,3", label: "RASTA", ty: 596 }
], 295);
finishPanel(pc);

// ---- d) ΔBTW ----
const pd = makePanel(3, { id: "d", domain: [-20, 80], major: dbtwTicks, minor: d3.range(-20, 81, 10), labels: dbtwTickLabels, titleX: 122,
  title: t => t.text("ΔBTW [K]") });
drawLine(pd, deltaBTW, "#000", 1.7);
finishPanel(pd);

// ---- e) BTD ----
const pe = makePanel(4, { id: "e", domain: [-6, 6], major: btdTicks, minor: d3.range(-6, 7, 1), labels: btdTickLabels, titleX: 137,
  title: t => t.text("BTD [K]") });
drawLine(pe, btd, "#000", 1.7);
finishPanel(pe);

// ---- f) distance to overshooting top ----
const pf = makePanel(5, { id: "f", domain: [0, 100], major: dotTicks, minor: d3.range(0, 101, 10), labels: dotTickLabels, titleX: 116,
  title: t => { t.append("tspan").text("d"); t.append("tspan").attr("font-size", 16).attr("dy", 5).text("OT");
               t.append("tspan").attr("dy", -5).text(" [km]"); } });
drawLine(pf, dotIROnly, "#b3b3b3", 1.9);
drawLine(pf, dotVisIR, "#000", 1.8);
legend(pf, [213.5, 1376.7, 372.7, 1430], [
  { x1: 233.5, x2: 280.8, y: 1392.7, stroke: "#000", w: 7, label: "Vis/IR", ty: 1398.3 },
  { x1: 233.5, x2: 280.8, y: 1414, stroke: "#b8b8b8", w: 6, label: "IR-only", ty: 1420 }
], 295);
finishPanel(pf);

// ---- g) optical depth ----
const pg = makePanel(6, { id: "g", domain: [0, 160], major: odTicks, minor: d3.range(0, 161, 10), labels: odTickLabels, titleX: 115,
  title: t => t.text("optical depth [ ]") });
drawLine(pg, opticalDepth, "#000", 1.6);
finishPanel(pg);

// ---- h) effective radius ----
const ph_ = makePanel(7, { id: "h", domain: [0, 80], major: reffTicks, minor: d3.range(0, 81, 5), labels: reffTickLabels, titleX: 132,
  title: t => { t.append("tspan").text("R"); t.append("tspan").attr("font-size", 17).attr("dy", 5).text("eff");
               t.append("tspan").attr("dy", -5).text(" [μm]"); } });
drawLine(ph_, effectiveRadius, "#000", 1.6);
finishPanel(ph_);

// ---- pointer arrows at the left margin ----
[[pc, 96], [pe, 92], [pf, 89], [pg, 94], [ph_, 105]].forEach(([p, off]) => {
  const yc = p.top + off;
  const pts = [[-6, yc - 27], [6, yc - 27], [6, yc - 55], [61, yc], [6, yc + 55], [6, yc + 27], [-6, yc + 27]];
  svg.append("path").attr("d", d3.line()(pts) + "Z").attr("fill", "url(#arrowGrad)")
    .attr("stroke", "#5d92cf").attr("stroke-width", 1).attr("filter", "url(#soft)");
});

// ---- highlighted time window spanning all panels ----
svg.append("rect").attr("x", x(highlightWindow[0])).attr("y", 20.5)
  .attr("width", x(highlightWindow[1]) - x(highlightWindow[0])).attr("height", 1970)
  .attr("rx", 3).attr("fill", "none").attr("stroke", "#6d9bc7").attr("stroke-width", 10).attr("stroke-opacity", 0.7);
</script>
</body></html>
